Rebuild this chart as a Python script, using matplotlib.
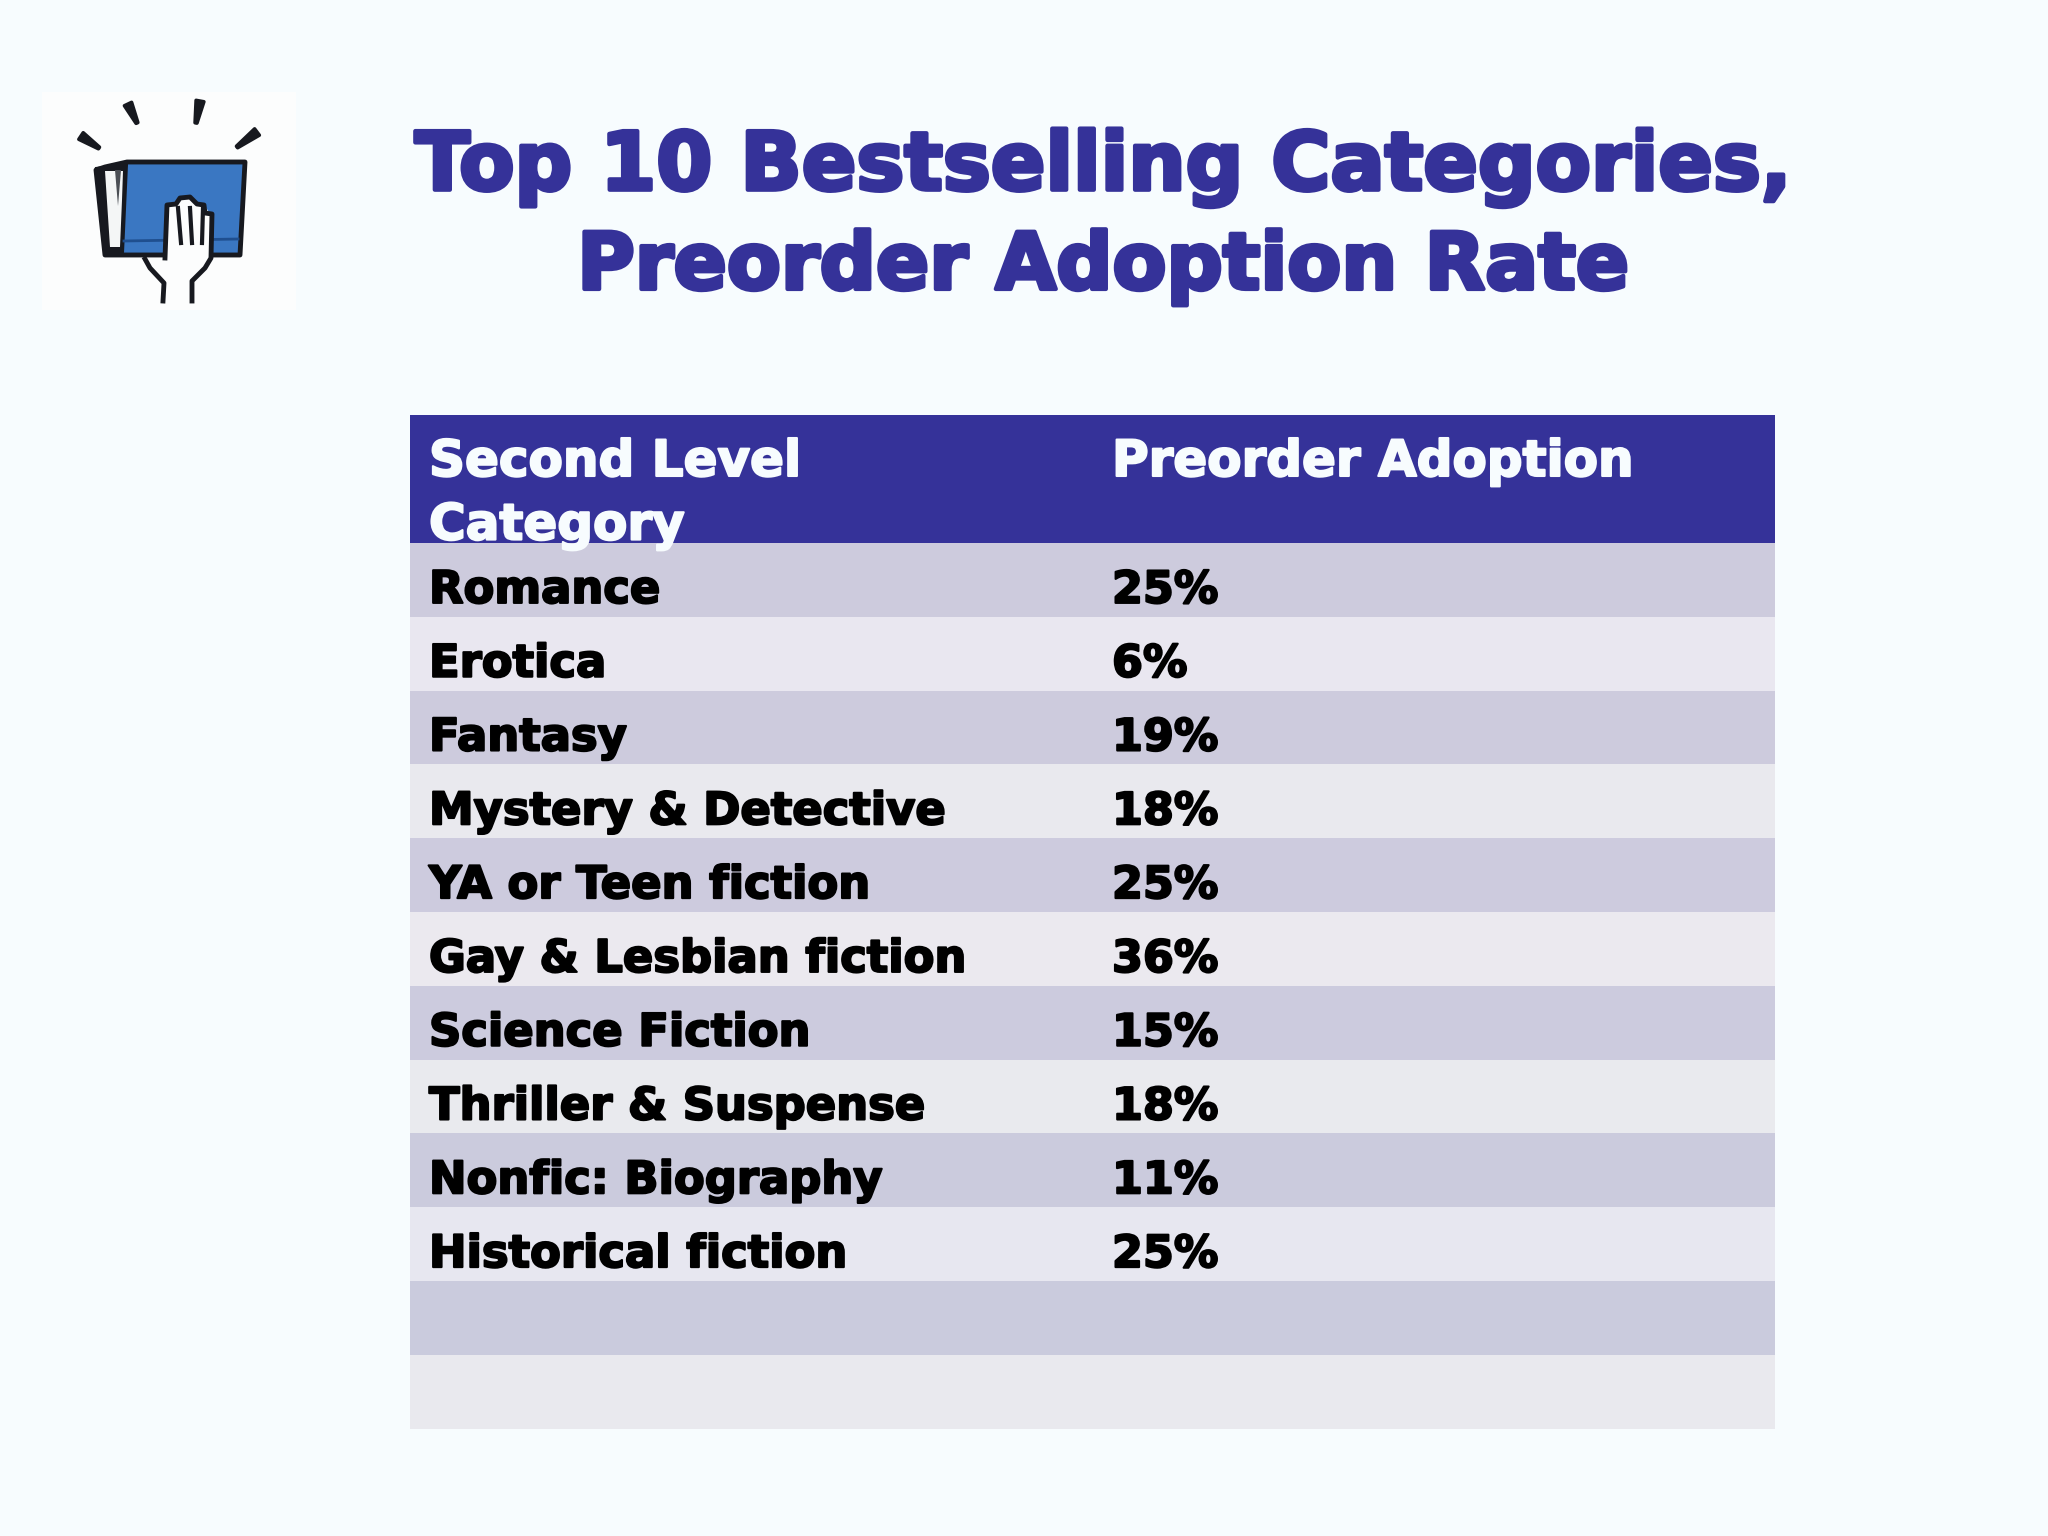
import math

import matplotlib

matplotlib.use("Agg")
from matplotlib import pyplot as plt
from matplotlib import patheffects
from matplotlib.patches import Polygon, Rectangle

BACKGROUND = "#f7fcfe"
NAVY = "#353299"
ROW_DARK = ["#cdcbdd", "#cdcbdd", "#cdcbde", "#cccbde", "#cbcbdd", "#cacbdd"]
ROW_LIGHT = ["#e9e7f0", "#e9e9ee", "#ebe9ef", "#e9eaee", "#e7e7f0", "#e9e9ee"]

TITLE_LINES = ["Top 10 Bestselling Categories,", "Preorder Adoption Rate"]
HEADER_LEFT = "Second Level\nCategory"
HEADER_RIGHT = "Preorder Adoption"
CATEGORIES = [
    "Romance",
    "Erotica",
    "Fantasy",
    "Mystery & Detective",
    "YA or Teen fiction",
    "Gay & Lesbian fiction",
    "Science Fiction",
    "Thriller & Suspense",
    "Nonfic: Biography",
    "Historical fiction",
    "",
    "",
]
ADOPTION = [25, 6, 19, 18, 25, 36, 15, 18, 11, 25, None, None]

TABLE_LEFT = 410
TABLE_RIGHT = 1775
HEADER_TOP = 415
HEADER_BOTTOM = 543
ROW_HEIGHT = 73.8
COL_1_X = 429
COL_2_X = 1112


def heavy_text(ax, x, y, s, color, size, stroke=1.5, **kwargs):
    text = ax.text(x, y, s, color=color, fontsize=size, family="DejaVu Sans", weight="bold", **kwargs)
    text.set_path_effects([patheffects.withStroke(linewidth=stroke, foreground=color)])
    return text


def draw_ray(ax, outer, inner, color):
    length = math.dist(outer, inner)
    nx = (inner[1] - outer[1]) / length
    ny = (outer[0] - inner[0]) / length
    points = [
        (outer[0] + nx * 4, outer[1] + ny * 4),
        (inner[0] + nx, inner[1] + ny),
        (inner[0] - nx, inner[1] - ny),
        (outer[0] - nx * 4, outer[1] - ny * 4),
    ]
    ax.add_patch(Polygon(points, fc=color, ec=color, lw=2.5, joinstyle="round", zorder=3))


def draw_icon(ax):
    # in pixels
    ax.add_patch(Rectangle((42, 92), 254, 218, color="#fcfdfd", lw=0, zorder=1))
    ink = "#17191f"
    rays = [((81, 136), (99, 148)), ((128, 104), (137, 123)), ((200, 101), (196, 123)), ((257, 132), (237, 147))]
    for outer, inner in rays:
        draw_ray(ax, outer, inner, ink)
    book = [(127, 162), (245, 162), (240, 255), (105, 255), (96, 170), (105, 167)]
    ax.add_patch(Polygon(book, fc="#3a77c2", ec=ink, lw=3.5, joinstyle="round", zorder=2))
    ax.add_patch(Polygon([(96, 168), (127, 164), (123, 252), (105, 255)], fc=ink, ec=ink, lw=1.5, zorder=3))
    pages = [(105, 171), (123, 171), (122, 200), (120, 247), (110, 247)]
    ax.add_patch(Polygon(pages, fc="#f4f6f6", ec="none", zorder=3))
    ax.add_patch(Polygon([(115, 170), (121, 170), (118, 206)], fc="#4a4e54", ec="none", zorder=3))
    ax.plot([124, 238], [241, 239], color="#1f4f8f", lw=2, zorder=3)
    hand = [
        (165, 258), (166, 207), (176, 204), (180, 198), (190, 197), (196, 204),
        (204, 205), (209, 212), (211, 212), (211, 258), (200, 270), (190, 281),
        (190, 302), (162, 302), (162, 281), (146, 268),
    ]
    ax.add_patch(Polygon(hand, fc="#fcfdfd", ec="none", zorder=3))
    outline = [
        (145, 259), (150, 268), (164, 283), (163, 301), None,
        (192, 301), (192, 281), (205, 268), (211, 258), (212, 214), (205, 213),
        (204, 205), (197, 204), (190, 197), (180, 198), (176, 204), (167, 205),
        (165, 258),
    ]
    split = outline.index(None)
    for part in (outline[:split], outline[split + 1:]):
        ax.plot(*zip(*part), color=ink, lw=3.5, solid_joinstyle="round", zorder=4)
    for x_top, x_bottom in [(178, 181), (190, 192), (203, 202)]:
        ax.plot([x_top, x_bottom], [208, 243], color=ink, lw=3, zorder=4)


def create_plot():
    fig = plt.figure(figsize=(20.48, 15.36), dpi=100, facecolor=BACKGROUND)
    ax = fig.add_axes([0, 0, 1, 1])
    ax.set_xlim(0, 2048)
    ax.set_ylim(1536, 0)
    ax.axis("off")

    draw_icon(ax)

    for line, y, size in zip(TITLE_LINES, [168, 267], [58, 56.6]):
        heavy_text(ax, 1103, y, line, NAVY, size, stroke=3, ha="center", va="center")

    width = TABLE_RIGHT - TABLE_LEFT
    header = Rectangle((TABLE_LEFT, HEADER_TOP), width, HEADER_BOTTOM - HEADER_TOP, color=NAVY, lw=0, zorder=1)
    ax.add_patch(header)
    left = heavy_text(ax, COL_1_X, 438, HEADER_LEFT, BACKGROUND, 36, va="top", linespacing=1.41, zorder=2)
    left.set_clip_path(header)
    heavy_text(ax, COL_2_X, 438, HEADER_RIGHT, BACKGROUND, 36, va="top", zorder=2)

    for i, (category, value) in enumerate(zip(CATEGORIES, ADOPTION)):
        top = HEADER_BOTTOM + i * ROW_HEIGHT
        color = ROW_LIGHT[i // 2] if i % 2 else ROW_DARK[i // 2]
        ax.add_patch(Rectangle((TABLE_LEFT, top), width, ROW_HEIGHT, color=color, lw=0, zorder=1))
        if not category:
            continue
        mid = top + ROW_HEIGHT / 2 + 6
        heavy_text(ax, COL_1_X, mid, category, "black", 32.3, va="center_baseline", zorder=2)
        heavy_text(ax, COL_2_X, mid, f"{value}%", "black", 32, va="center_baseline", zorder=2)

    fig.savefig("out.png", dpi=100, facecolor=BACKGROUND)
    plt.close(fig)


if __name__ == "__main__":
    create_plot()
